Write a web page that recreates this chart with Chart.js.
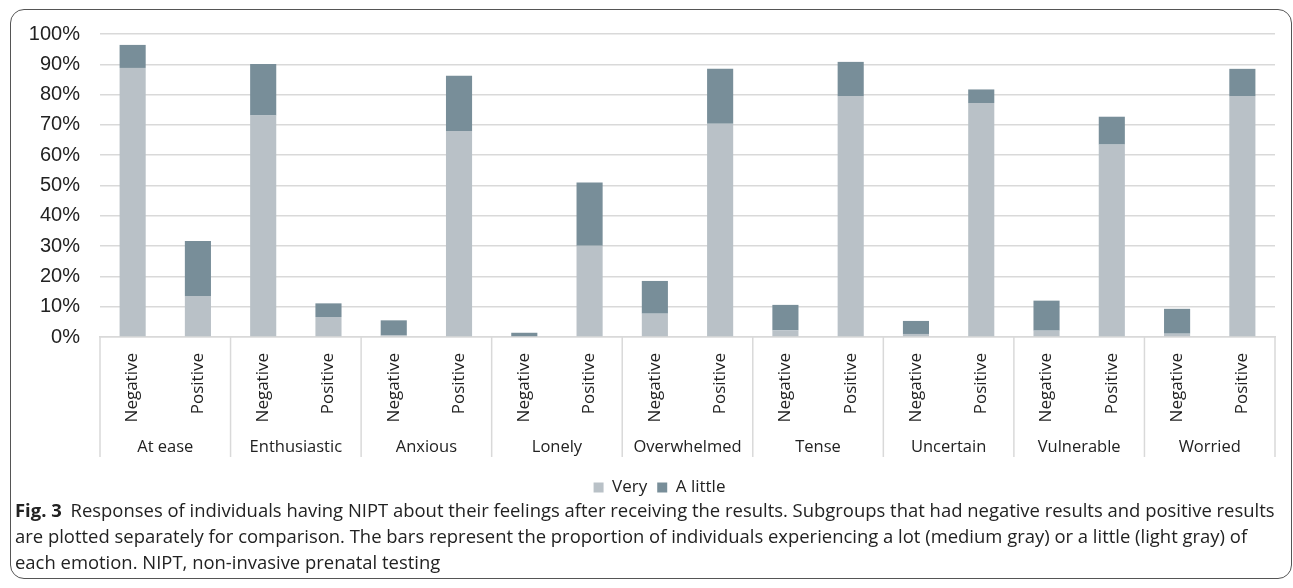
<!DOCTYPE html>
<html>
<head>
<meta charset="utf-8">
<script src="https://cdn.jsdelivr.net/npm/chart.js@4/dist/chart.umd.min.js"></script>
<style>
  html,body{margin:0;padding:0;background:#fff;}
  body{width:1293px;height:588px;position:relative;overflow:hidden;}
  #frame{position:absolute;left:10px;top:9px;width:1282px;height:570px;border:1.5px solid #555;border-radius:14px;box-sizing:border-box;}
  #wrap{position:absolute;left:0;top:0;width:1293px;height:506px;}
  #caption{position:absolute;left:15px;top:497px;font-family:"Open Sans",sans-serif;font-size:18px;line-height:26px;color:#222;white-space:nowrap;}
  #caption b{font-weight:700;margin-right:4px;}
  #caption span{display:block;}
</style>
</head>
<body>
<div id="frame"></div>
<div id="wrap"><canvas id="c"></canvas></div>
<div id="caption"><span id="l1"><b>Fig. 3</b> Responses of individuals having NIPT about their feelings after receiving the results. Subgroups that had negative results and positive results</span><span>are plotted separately for comparison. The bars represent the proportion of individuals experiencing a lot (medium gray) or a little (light gray) of</span><span>each emotion. NIPT, non-invasive prenatal testing</span></div>
<script>
const groups = ['At ease','Enthusiastic','Anxious','Lonely','Overwhelmed','Tense','Uncertain','Vulnerable','Worried'];
const subgroups = ['Negative','Positive'];
const veryValues    = [88.8, 13.5, 73.1, 6.6, 0.5, 68.0, 0.0, 30.1, 7.7, 70.4, 2.2, 79.5, 1.0, 77.2, 2.1, 63.5, 1.1, 79.5];
const aLittleValues = [7.6, 18.2, 17.0, 4.5, 5.0, 18.2, 1.4, 20.9, 10.8, 18.1, 8.4, 11.3, 4.3, 4.5, 9.9, 9.2, 8.2, 9.0];
const yTicks = [0,10,20,30,40,50,60,70,80,90,100];

const labels = [];
groups.forEach(() => subgroups.forEach(s => labels.push(s)));

// fit caption first line to the frame width
(function(){
  const l1 = document.getElementById('l1');
  const cap = document.getElementById('caption');
  l1.style.display = 'inline-block';
  const w = l1.getBoundingClientRect().width;
  l1.style.display = 'block';
  cap.style.fontSize = (18 * 1260 / w).toFixed(2) + 'px';
})();

const separators = {
  id: 'separators',
  afterLayout(chart) {
    // legend in the reference sits slightly right of the page centre
    const lg = chart.legend;
    if (lg) { lg.left += 22; lg.right += 22; }
  },
  afterDraw(chart) {
    const xs = chart.scales.x, x2 = chart.scales.x2;
    const ctx = chart.ctx;
    ctx.save();
    ctx.strokeStyle = '#d9d9d9';
    ctx.lineWidth = 1.5;
    const n = groups.length;
    for (let i = 0; i <= n; i++) {
      let px;
      if (i === 0) px = xs.left;
      else if (i === n) px = xs.right;
      else px = (xs.getPixelForValue(2*i-1) + xs.getPixelForValue(2*i)) / 2;
      ctx.beginPath();
      ctx.moveTo(px, xs.top);
      ctx.lineTo(px, x2.top + 30);
      ctx.stroke();
    }
    ctx.restore();
  }
};

new Chart(document.getElementById('c'), {
  type: 'bar',
  data: {
    labels: labels,
    datasets: [
      {label: 'Very', data: veryValues, backgroundColor: '#b9c1c7', barPercentage: 0.4, categoryPercentage: 1.0},
      {label: 'A little', data: aLittleValues, backgroundColor: '#788e99', barPercentage: 0.4, categoryPercentage: 1.0}
    ]
  },
  options: {
    responsive: true,
    maintainAspectRatio: false,
    animation: false,
    devicePixelRatio: 1,
    layout: {padding: {top: 34, right: 18, left: 0, bottom: 0}},
    plugins: {
      legend: {
        position: 'bottom',
        labels: {boxWidth: 10, boxHeight: 10, padding: 10, color: '#222', font: {family: 'Open Sans', size: 17}}
      },
      tooltip: {enabled: false}
    },
    scales: {
      x: {
        stacked: true,
        weight: 0,
        grid: {display: false},
        border: {display: true, color: '#d9d9d9', width: 1.5},
        ticks: {minRotation: 90, maxRotation: 90, padding: 8, color: '#222', font: {family: 'Open Sans', size: 17}},
        afterFit: s => { s.height = 90; }
      },
      x2: {
        type: 'category',
        labels: groups,
        position: 'bottom',
        weight: 1,
        offset: true,
        grid: {display: false},
        border: {display: false},
        ticks: {padding: 2, color: '#222', font: {family: 'Open Sans', size: 16.5}},
        afterFit: s => { s.height = 42; }
      },
      y: {
        stacked: true,
        min: 0, max: 100,
        afterBuildTicks: s => { s.ticks = yTicks.map(v => ({value: v})); },
        grid: {color: '#d9d9d9', lineWidth: 1.5, drawTicks: false},
        border: {display: false},
        ticks: {padding: 20, color: '#222', font: {family: 'Liberation Sans', size: 20}, callback: v => v + '%'},
        afterFit: s => { s.width = 100; }
      }
    }
  },
  plugins: [separators]
});
</script>
</body>
</html>
